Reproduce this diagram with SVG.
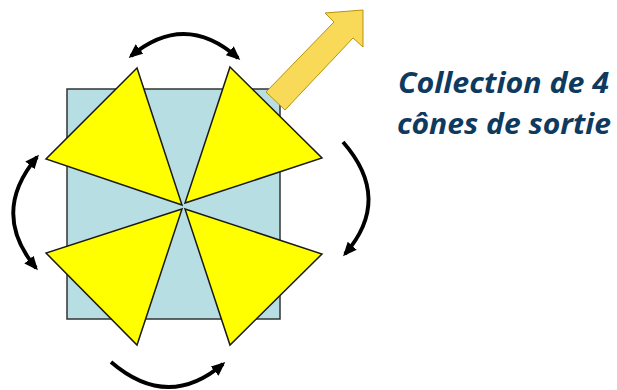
<svg xmlns="http://www.w3.org/2000/svg" width="617" height="390" viewBox="0 0 617 390">
<style>
.cone{fill:#FFFF00;stroke:#1a1a1a;stroke-width:1.5;stroke-linejoin:miter}
.rot{fill:none;stroke:#000;stroke-width:3.8}
.lbl{font-family:"Open Sans","Liberation Sans",sans-serif;font-weight:bold;font-style:italic;font-size:28px;fill:#0F3A5F}
</style>
<defs>
<marker id="ah" markerUnits="userSpaceOnUse" viewBox="0 0 14 12" refX="11" refY="6" markerWidth="14" markerHeight="12" orient="auto-start-reverse">
<path d="M0,0 L14,6 L0,12 z" fill="#000"/>
</marker>
</defs>
<rect width="617" height="390" fill="#fff"/>
<g id="square">
<rect x="67" y="89" width="213" height="230" fill="#B7DEE2" stroke="#333" stroke-width="1.5"/>
</g>
<g id="cone-top-left"><polygon class="cone" points="137,68 46,159 182,205"/></g>
<g id="cone-top-right"><polygon class="cone" points="230,67 322,158 185,203"/></g>
<g id="cone-bottom-left"><polygon class="cone" points="182,209 46,253 137,345"/></g>
<g id="cone-bottom-right"><polygon class="cone" points="185,209 322,254 230,345"/></g>
<g id="exit-arrow">
<polygon points="266,92 334,22 325,13 363,10 363,47 353,38 285,110" fill="#F9DA58" stroke="#B8930A" stroke-width="1"/>
</g>
<g id="connectors">
<path class="rot" d="M131,56 Q185,11 238,58" marker-start="url(#ah)" marker-end="url(#ah)"/>
<path class="rot" d="M37,157 Q-10,213 36,268" marker-start="url(#ah)" marker-end="url(#ah)"/>
<path class="rot" d="M343,142 Q393,199 345,254" marker-end="url(#ah)"/>
<path class="rot" d="M111,362 Q168,411 223,364" marker-end="url(#ah)"/>
</g>
<g id="label">
<text class="lbl" x="398" y="93" textLength="211" lengthAdjust="spacingAndGlyphs">Collection de 4</text>
<text class="lbl" x="397" y="134" textLength="214" lengthAdjust="spacingAndGlyphs">cônes de sortie</text>
</g>
</svg>
